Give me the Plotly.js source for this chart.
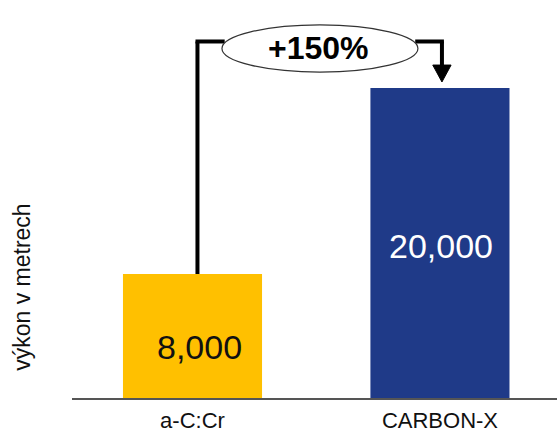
<!DOCTYPE html>
<html>
<head>
<meta charset="utf-8">
<script src="https://cdn.plot.ly/plotly-3.0.1.min.js"></script>
<style>html,body{margin:0;padding:0;background:#fff}#chart{width:557px;height:434px}</style>
</head>
<body>
<div id="chart"></div>
<script>
const categories = ["a-C:Cr", "CARBON-X"];
const values = [8000, 20000];
const valueLabels = ["8,000", "20,000"];
const barColors = ["#FFC000", "#1F3A88"];
const labelColors = ["#111111", "#FFFFFF"];
const changeLabel = "+150%";
const yTitle = "výkon v metrech";

const xPos = categories.map((c, i) => i);
const lineY = 23000;
const font = "Liberation Sans, Arial, sans-serif";

const trace = {
  type: "bar",
  x: xPos,
  y: values,
  width: 0.562,
  marker: {color: barColors, line: {width: 0}},
  hoverinfo: "skip"
};

const layout = {
  width: 557, height: 434,
  margin: {l: 72, r: 0, t: 0, b: 36, pad: 0},
  paper_bgcolor: "#fff", plot_bgcolor: "#fff",
  showlegend: false,
  xaxis: {
    type: "linear",
    range: [-0.487, 1.473],
    tickvals: xPos, ticktext: categories,
    showgrid: false, zeroline: false,
    showline: true, linecolor: "#555555", linewidth: 2,
    ticks: "", ticklabelstandoff: 2,
    tickfont: {family: font, size: 22, color: "#111"}
  },
  yaxis: {
    range: [0, 25677],
    showgrid: false, zeroline: false, showline: false,
    showticklabels: false, ticks: ""
  },
  shapes: [
    {type: "line", xref: "x", yref: "y", x0: 0.02, x1: 0.02, y0: values[0], y1: lineY, line: {color: "#000", width: 4}},
    {type: "line", xref: "x", yref: "y", x0: 0.02 - 0.008, x1: 0.13, y0: lineY, y1: lineY, line: {color: "#000", width: 4}},
    {type: "line", xref: "x", yref: "y", x0: 0.9, x1: 1.008 + 0.008, y0: lineY, y1: lineY, line: {color: "#000", width: 4}},
    {type: "line", xref: "x", yref: "y", x0: 1.008, x1: 1.008, y0: lineY, y1: values[1] + 1400, line: {color: "#000", width: 4}},
    {type: "path", xref: "x", yref: "y",
     path: "M 0.971 21480 L 1.045 21480 L 1.008 20390 Z",
     fillcolor: "#000", line: {color: "#000", width: 1}},
    {type: "circle", xref: "x", yref: "y", x0: 0.119, x1: 0.911, y0: 21030, y1: 24070,
     fillcolor: "#fff", line: {color: "#333", width: 1.2}}
  ],
  annotations: [
    {xref: "x", yref: "y", x: xPos[0] + 0.03, y: values[0] * 0.41, text: valueLabels[0], showarrow: false,
     font: {family: font, size: 34, color: labelColors[0]}},
    {xref: "x", yref: "y", x: xPos[1] + 0.005, y: values[1] * 0.49, text: valueLabels[1], showarrow: false,
     font: {family: font, size: 34, color: labelColors[1]}},
    {xref: "x", yref: "y", x: 0.51, y: 22550, text: "<b>" + changeLabel + "</b>", showarrow: false,
     font: {family: font, size: 32, color: "#000"}},
    {xref: "paper", yref: "paper", x: -0.103, y: 0.277, xanchor: "center", yanchor: "middle",
     text: yTitle, textangle: -90, showarrow: false,
     font: {family: font, size: 23, color: "#111"}}
  ]
};

Plotly.newPlot("chart", [trace], layout, {staticPlot: true, displayModeBar: false});
</script>
</body>
</html>
